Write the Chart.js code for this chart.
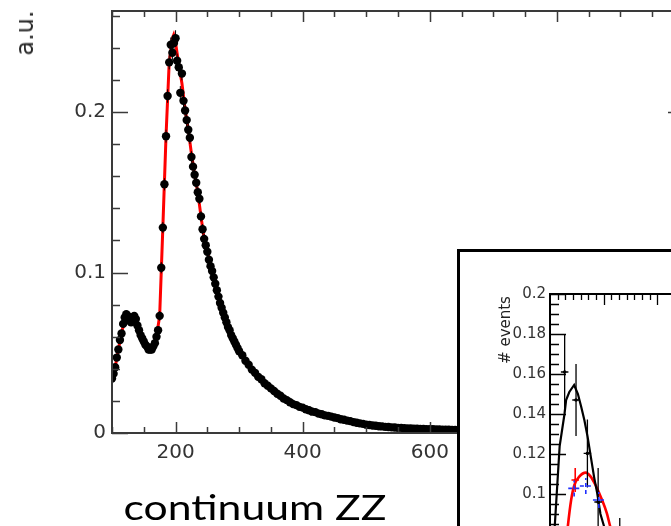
<!DOCTYPE html>
<html>
<head>
<meta charset="utf-8">
<script src="https://cdn.jsdelivr.net/npm/chart.js@4.4.1/dist/chart.umd.min.js"></script>
<style>
  html, body { margin: 0; padding: 0; background: #fff; overflow: hidden; }
  #wrap { position: relative; width: 671px; height: 526px; overflow: hidden; background: #fff; }
  #mainBox { position: absolute; left: 0; top: 0; }
  #insetBox { position: absolute; left: 457px; top: 249px; border: 3px solid #000; background: #fff; }
  #au { position: absolute; left: 25px; top: 33px; transform: translate(-50%, -50%) rotate(-90deg);
        font: 24px "DejaVu Sans"; color: #2a2a2a; white-space: nowrap; }
  #caption { position: absolute; left: 255px; top: 489px; transform: translateX(-50%) scaleX(1.22);
             font: 35px Lato; line-height: 35px; color: #000; white-space: nowrap; }
</style>
</head>
<body>
<div id="wrap">
  <div id="mainBox"><canvas id="mainChart" width="690" height="526"></canvas></div>
  <div id="au">a.u.</div>
  <div id="caption">continuum ZZ</div>
  <div id="insetBox"><canvas id="insetChart" width="255" height="482"></canvas></div>
</div>
<script>
// continuum ZZ: masa invariante, puntos + ajuste (rojo), con recuadro de eventos

//---DATA (main plot)
const massX = [
  100, 102.5, 105, 107.5, 110, 112.5, 115, 117.5, 120, 122.5,
  125, 127.5, 130, 132.5, 135, 137.5, 140, 142.5, 145, 147.5,
  150, 152.5, 155, 157.5, 160, 162.5, 165, 167.5, 170, 172.5,
  175, 177.5, 180, 182.5, 185, 187.5, 190, 192.5, 195, 197.5,
  200, 202.5, 205, 207.5, 210, 212.5, 215, 217.5, 220, 222.5,
  225, 227.5, 230, 232.5, 235, 237.5, 240, 242.5, 245, 247.5,
  250, 252.5, 255, 257.5, 260, 262.5, 265, 267.5, 270, 272.5,
  275, 277.5, 280, 282.5, 285, 287.5, 290, 292.5, 295, 297.5,
  300, 305, 310, 315, 320, 325, 330, 335, 340, 345,
  350, 355, 360, 365, 370, 375, 380, 385, 390, 395,
  400, 405, 410, 415, 420, 425, 430, 435, 440, 445,
  450, 455, 460, 465, 470, 475, 480, 485, 490, 495,
  500, 505, 510, 515, 520, 525, 530, 535, 540, 545,
  550, 555, 560, 565, 570, 575, 580, 585, 590, 595,
  600, 605, 610, 615, 620, 625, 630, 635, 640, 645, 650
];
const massY = [
  0.034, 0.037, 0.041, 0.047, 0.052, 0.058, 0.062, 0.068, 0.072, 0.074,
  0.073, 0.070, 0.069, 0.071, 0.073, 0.071, 0.067, 0.064, 0.061, 0.059,
  0.057, 0.055, 0.054, 0.052, 0.052, 0.052, 0.054, 0.056, 0.060, 0.064,
  0.073, 0.103, 0.128, 0.155, 0.185, 0.210, 0.231, 0.242, 0.237, 0.243,
  0.246, 0.232, 0.228, 0.212, 0.224, 0.207, 0.201, 0.195, 0.189, 0.184,
  0.172, 0.166, 0.161, 0.156, 0.150, 0.146, 0.135, 0.127, 0.121, 0.117,
  0.113, 0.108, 0.104, 0.101, 0.097, 0.093, 0.089, 0.085, 0.081, 0.078,
  0.075, 0.072, 0.069, 0.066, 0.064, 0.061, 0.059, 0.057, 0.055, 0.053,
  0.051, 0.0485, 0.0450, 0.0425, 0.0395, 0.0375, 0.0350, 0.0335, 0.0310, 0.0295,
  0.0278, 0.0262, 0.0245, 0.0232, 0.0215, 0.0205, 0.0192, 0.0180, 0.0174, 0.0163,
  0.0158, 0.0148, 0.0142, 0.0133, 0.0130, 0.0121, 0.0117, 0.0110, 0.0107, 0.0102,
  0.0097, 0.0093, 0.0086, 0.0083, 0.0077, 0.0074, 0.0068, 0.0064, 0.0060, 0.0057,
  0.0052, 0.0050, 0.0047, 0.0045, 0.0042, 0.0041, 0.0038, 0.0037, 0.0035, 0.0034,
  0.0032, 0.0032, 0.0030, 0.0029, 0.0029, 0.0027, 0.0027, 0.0025, 0.0026, 0.0024,
  0.0023, 0.0023, 0.0022, 0.0022, 0.0021, 0.0020, 0.0021, 0.0019, 0.0019, 0.0018, 0.0018
];
const massErr = [
  0.0022, 0.0022, 0.0022, 0.0022, 0.0022, 0.0022, 0.0022, 0.0022, 0.0022, 0.0022,
  0.0022, 0.0022, 0.0022, 0.0022, 0.0022, 0.0022, 0.0022, 0.0022, 0.0022, 0.0022,
  0.0022, 0.0022, 0.0022, 0.0022, 0.0022, 0.0022, 0.0022, 0.0022, 0.0022, 0.0022,
  0.0030, 0.0035, 0.0035, 0.0038, 0.0040, 0.0042, 0.0044, 0.0045, 0.0045, 0.0045,
  0.0050, 0.0045, 0.0045, 0.0042, 0.0042, 0.0040, 0.0040, 0.0040, 0.0038, 0.0038,
  0.0036, 0.0036, 0.0035, 0.0035, 0.0034, 0.0034, 0.0032, 0.0032, 0.0031, 0.0031,
  0.0030, 0.0030, 0.0029, 0.0029, 0.0028, 0.0027, 0.0027, 0.0026, 0.0026, 0.0025,
  0.0025, 0.0025, 0.0024, 0.0024, 0.0023, 0.0023, 0.0022, 0.0022, 0.0022, 0.0021,
  0.0021, 0.0020, 0.0020, 0.0019, 0.0019, 0.0018, 0.0018, 0.0017, 0.0017, 0.0016,
  0.0016, 0.0015, 0.0015, 0.0015, 0.0014, 0.0014, 0.0013, 0.0013, 0.0013, 0.0012,
  0.0012, 0.0012, 0.0011, 0.0011, 0.0011, 0.0011, 0.0010, 0.0010, 0.0010, 0.0010,
  0.0010, 0.0009, 0.0009, 0.0009, 0.0009, 0.0009, 0.0009, 0.0008, 0.0008, 0.0008,
  0.0008, 0.0008, 0.0008, 0.0008, 0.0008, 0.0007, 0.0007, 0.0007, 0.0007, 0.0007,
  0.0007, 0.0007, 0.0007, 0.0007, 0.0007, 0.0006, 0.0006, 0.0006, 0.0006, 0.0006,
  0.0006, 0.0006, 0.0006, 0.0006, 0.0006, 0.0006, 0.0006, 0.0006, 0.0006, 0.0006, 0.0006
];
// ajuste (linea roja)
const fitX = [100, 105, 110, 115, 120, 125, 130, 135, 140, 145, 150, 155, 160, 165, 170, 175,
  180, 185, 190, 195, 197, 200, 205, 210, 215, 220, 225, 230, 235, 240, 245, 250, 260, 270,
  280, 290, 300, 325, 350, 375, 400, 450, 500, 550, 600, 650];
const fitY = [0.034, 0.041, 0.052, 0.062, 0.071, 0.073, 0.070, 0.072, 0.067, 0.061, 0.057, 0.054,
  0.052, 0.054, 0.060, 0.073, 0.128, 0.185, 0.231, 0.246, 0.248, 0.243, 0.230, 0.218, 0.202,
  0.189, 0.174, 0.161, 0.150, 0.135, 0.121, 0.113, 0.097, 0.081, 0.069, 0.059, 0.051, 0.037,
  0.0278, 0.0205, 0.0158, 0.0097, 0.0052, 0.0032, 0.0023, 0.0018];

const xLabelTicks = [200, 400, 600, 800];
const xMinorTicks = [100, 150, 250, 300, 350, 450, 500, 550, 650, 700, 750, 850, 900, 950, 1000];
const yLabelTicks = [0, 0.1, 0.2];
const yMinorTicks = [0.02, 0.04, 0.06, 0.08, 0.12, 0.14, 0.16, 0.18, 0.22, 0.24, 0.26];

//---DATA (inset)
const bkgX = [0.05, 0.09, 0.18, 0.27, 0.30, 0.36, 0.45, 0.52, 0.58, 0.64, 0.70, 0.76, 0.82, 0.88, 0.94, 1.00, 1.10];
const bkgY = [0.075, 0.0845, 0.124, 0.140, 0.147, 0.151, 0.1545, 0.150, 0.1437, 0.137, 0.1287, 0.1187, 0.1087, 0.1003, 0.090, 0.0845, 0.075];
const sigX = [0.30, 0.333, 0.394, 0.4545, 0.545, 0.667, 0.758, 0.848, 0.97, 1.06, 1.12, 1.20];
const sigY = [0.075, 0.084, 0.097, 0.1045, 0.1087, 0.1107, 0.1087, 0.1045, 0.097, 0.0903, 0.084, 0.077];
const dataPtsX = [0.273, 0.485, 0.697, 0.897, 1.30];
const dataPtsY = [0.161, 0.147, 0.1203, 0.096, 0.070];
const dataPtsErr = [0.019, 0.018, 0.017, 0.017, 0.018];
const sigPtsX = [0.47];
const sigPtsY = [0.107];
const sigPtsErr = [0.006];
const bluePtsX = [0.45, 0.667, 0.91];
const bluePtsY = [0.1028, 0.104, 0.097];
const bluePtsErr = [0.004, 0.004, 0.004];
const insetYLabels = [0, 0.02, 0.04, 0.06, 0.08, 0.1, 0.12, 0.14, 0.16, 0.18, 0.2];
const insetYMinor = [0.085, 0.09, 0.095, 0.105, 0.11, 0.115, 0.125, 0.13, 0.135, 0.145, 0.15, 0.155,
  0.165, 0.17, 0.175, 0.185, 0.19, 0.195];
const insetXMajor = [1, 2];
const insetXMinor = [0.143, 0.286, 0.429, 0.571, 0.714, 0.857, 1.143, 1.286, 1.429, 1.571, 1.714, 1.857];

Chart.defaults.font.family = '"DejaVu Sans"';
Chart.defaults.color = '#333';

function pairs(xs, ys){
  return xs.map((v, i) => ({x: v, y: ys[i]}));
}

// quitar el relleno automatico que Chart.js deja para las etiquetas
function noLabelPadding(s){
  s.paddingTop = 0; s.paddingBottom = 0; s.paddingLeft = 0; s.paddingRight = 0;
}

//-----PLUGINS
// marco estilo ROOT: ticks hacia adentro
const rootFrame = {
  id: 'rootFrame',
  afterDraw(chart, args, o){
    const ctx = chart.ctx;
    const a = chart.chartArea;
    const sx = chart.scales.x, sy = chart.scales.y;
    ctx.save();
    ctx.strokeStyle = o.color;
    ctx.lineWidth = o.tickWidth;
    ctx.beginPath();
    const tx = (v, len) => {
      const p = Math.round(sx.getPixelForValue(v)) + 0.5;
      ctx.moveTo(p, a.bottom); ctx.lineTo(p, a.bottom - len);
      ctx.moveTo(p, a.top); ctx.lineTo(p, a.top + len);
    };
    const ty = (v, len) => {
      const p = Math.round(sy.getPixelForValue(v)) + 0.5;
      ctx.moveTo(a.left, p); ctx.lineTo(a.left + len, p);
      ctx.moveTo(a.right, p); ctx.lineTo(a.right - len, p);
    };
    o.xMajor.forEach(v => tx(v, o.xMajorLen));
    o.xMinor.forEach(v => tx(v, o.xMinorLen));
    o.yMajor.forEach(v => ty(v, o.yMajorLen));
    o.yMinor.forEach(v => ty(v, o.yMinorLen));
    ctx.stroke();
    ctx.lineWidth = o.width;
    ctx.strokeRect(a.left, a.top, a.right - a.left, a.bottom - a.top);
    ctx.restore();
  }
};

// barras de error
const errorBars = {
  id: 'errorBars',
  afterDatasetsDraw(chart, args, o){
    const ctx = chart.ctx;
    const a = chart.chartArea;
    const sx = chart.scales.x, sy = chart.scales.y;
    ctx.save();
    ctx.beginPath();
    ctx.rect(a.left, a.top, a.right - a.left, a.bottom - a.top);
    ctx.clip();
    o.sets.forEach(s => {
      ctx.strokeStyle = s.color;
      ctx.lineWidth = s.width;
      ctx.setLineDash(s.dash || []);
      ctx.beginPath();
      s.xs.forEach((xv, i) => {
        const px = sx.getPixelForValue(xv);
        ctx.moveTo(px, sy.getPixelForValue(s.ys[i] - s.ey[i]));
        ctx.lineTo(px, sy.getPixelForValue(s.ys[i] + s.ey[i]));
        if (s.ex) {
          const py = sy.getPixelForValue(s.ys[i]);
          ctx.moveTo(sx.getPixelForValue(xv - s.ex), py);
          ctx.lineTo(sx.getPixelForValue(xv + s.ex), py);
        }
      });
      ctx.stroke();
    });
    ctx.restore();
  }
};

//-----MAIN CHART
new Chart(document.getElementById('mainChart'), {
  type: 'scatter',
  data: {
    datasets: [
      {
        label: 'continuum ZZ',
        data: pairs(massX, massY),
        pointRadius: 4.2,
        pointBackgroundColor: '#000',
        pointBorderColor: '#000',
        pointBorderWidth: 0,
        showLine: false
      },
      {
        label: 'fit',
        type: 'line',
        data: pairs(fitX, fitY),
        borderColor: '#ff0000',
        borderWidth: 3,
        pointRadius: 0,
        tension: 0,
        fill: false
      }
    ]
  },
  plugins: [errorBars, rootFrame],
  options: {
    responsive: false,
    animation: false,
    layout: { padding: { left: 0, top: 11, right: 6, bottom: 0 } },
    plugins: {
      legend: { display: false },
      tooltip: { enabled: false },
      errorBars: { sets: [{ xs: massX, ys: massY, ey: massErr, color: '#000', width: 1 }] },
      rootFrame: {
        color: '#3a3a3a', width: 2, tickWidth: 1.5,
        xMajor: xLabelTicks, xMinor: xMinorTicks, yMajor: yLabelTicks, yMinor: yMinorTicks,
        xMajorLen: 11, xMinorLen: 6, yMajorLen: 16, yMinorLen: 8
      }
    },
    scales: {
      x: {
        type: 'linear', min: 100, max: 1000,
        grid: { display: false, drawTicks: false },
        border: { display: false },
        afterBuildTicks: s => { s.ticks = xLabelTicks.map(v => ({ value: v })); },
        afterFit: s => { s.height = 93; noLabelPadding(s); },
        ticks: { padding: 8, font: { size: 20 }, color: '#333', maxRotation: 0, callback: v => String(v) }
      },
      y: {
        type: 'linear', min: 0, max: 0.263,
        grid: { display: false, drawTicks: false },
        border: { display: false },
        afterBuildTicks: s => { s.ticks = yLabelTicks.map(v => ({ value: v })); },
        afterFit: s => { s.width = 112; noLabelPadding(s); },
        ticks: { padding: 6, font: { size: 20 }, color: '#333', callback: v => String(v) }
      }
    }
  }
});

//-----INSET CHART
const insetTitle = {
  id: 'insetTitle',
  afterDraw(chart){
    const ctx = chart.ctx;
    ctx.save();
    ctx.translate(50, 78);
    ctx.rotate(-Math.PI / 2);
    ctx.font = '15px "DejaVu Sans"';
    ctx.fillStyle = '#222';
    ctx.textAlign = 'center';
    ctx.textBaseline = 'alphabetic';
    ctx.fillText('# events', 0, 0);
    ctx.restore();
  }
};

new Chart(document.getElementById('insetChart'), {
  type: 'scatter',
  data: {
    datasets: [
      { label: 'data', data: pairs(dataPtsX, dataPtsY), pointRadius: 1.8,
        pointBackgroundColor: '#000', pointBorderWidth: 0, showLine: false },
      { label: 'signal pts', data: pairs(sigPtsX, sigPtsY), pointRadius: 1.5,
        pointBackgroundColor: '#ff0000', pointBorderWidth: 0, showLine: false },
      { label: 'total', type: 'line', data: pairs(bkgX, bkgY), borderColor: '#000',
        borderWidth: 2.2, pointRadius: 0, tension: 0, fill: false },
      { label: 'signal', type: 'line', data: pairs(sigX, sigY), borderColor: '#ff0000',
        borderWidth: 2.6, pointRadius: 0, cubicInterpolationMode: 'monotone', fill: false },
      { label: 'blue', data: pairs(bluePtsX, bluePtsY), pointRadius: 0, showLine: false }
    ]
  },
  plugins: [errorBars, rootFrame, insetTitle],
  options: {
    responsive: false,
    animation: false,
    layout: { padding: { left: 0, top: 42, right: 0, bottom: 40 } },
    plugins: {
      legend: { display: false },
      tooltip: { enabled: false },
      errorBars: { sets: [
        { xs: dataPtsX, ys: dataPtsY, ey: dataPtsErr, ex: 0.07, color: '#000', width: 1.3 },
        { xs: sigPtsX, ys: sigPtsY, ey: sigPtsErr, ex: 0.07, color: '#ff0000', width: 1.6 },
        { xs: bluePtsX, ys: bluePtsY, ey: bluePtsErr, ex: 0.11, color: '#1f2fff', width: 1.6, dash: [4, 3] }
      ] },
      rootFrame: {
        color: '#000', width: 2, tickWidth: 1.3,
        xMajor: insetXMajor, xMinor: insetXMinor, yMajor: insetYLabels, yMinor: insetYMinor,
        xMajorLen: 11, xMinorLen: 6, yMajorLen: 16, yMinorLen: 9
      }
    },
    scales: {
      x: { type: 'linear', min: 0, max: 3, display: false },
      y: {
        type: 'linear', min: 0, max: 0.2,
        grid: { display: false, drawTicks: false },
        border: { display: false },
        afterBuildTicks: s => { s.ticks = insetYLabels.map(v => ({ value: v })); },
        afterFit: s => { s.width = 90; noLabelPadding(s); },
        ticks: { padding: 4, font: { size: 15 }, color: '#333', callback: v => String(+v.toFixed(2)) }
      }
    }
  }
});
</script>
</body>
</html>
